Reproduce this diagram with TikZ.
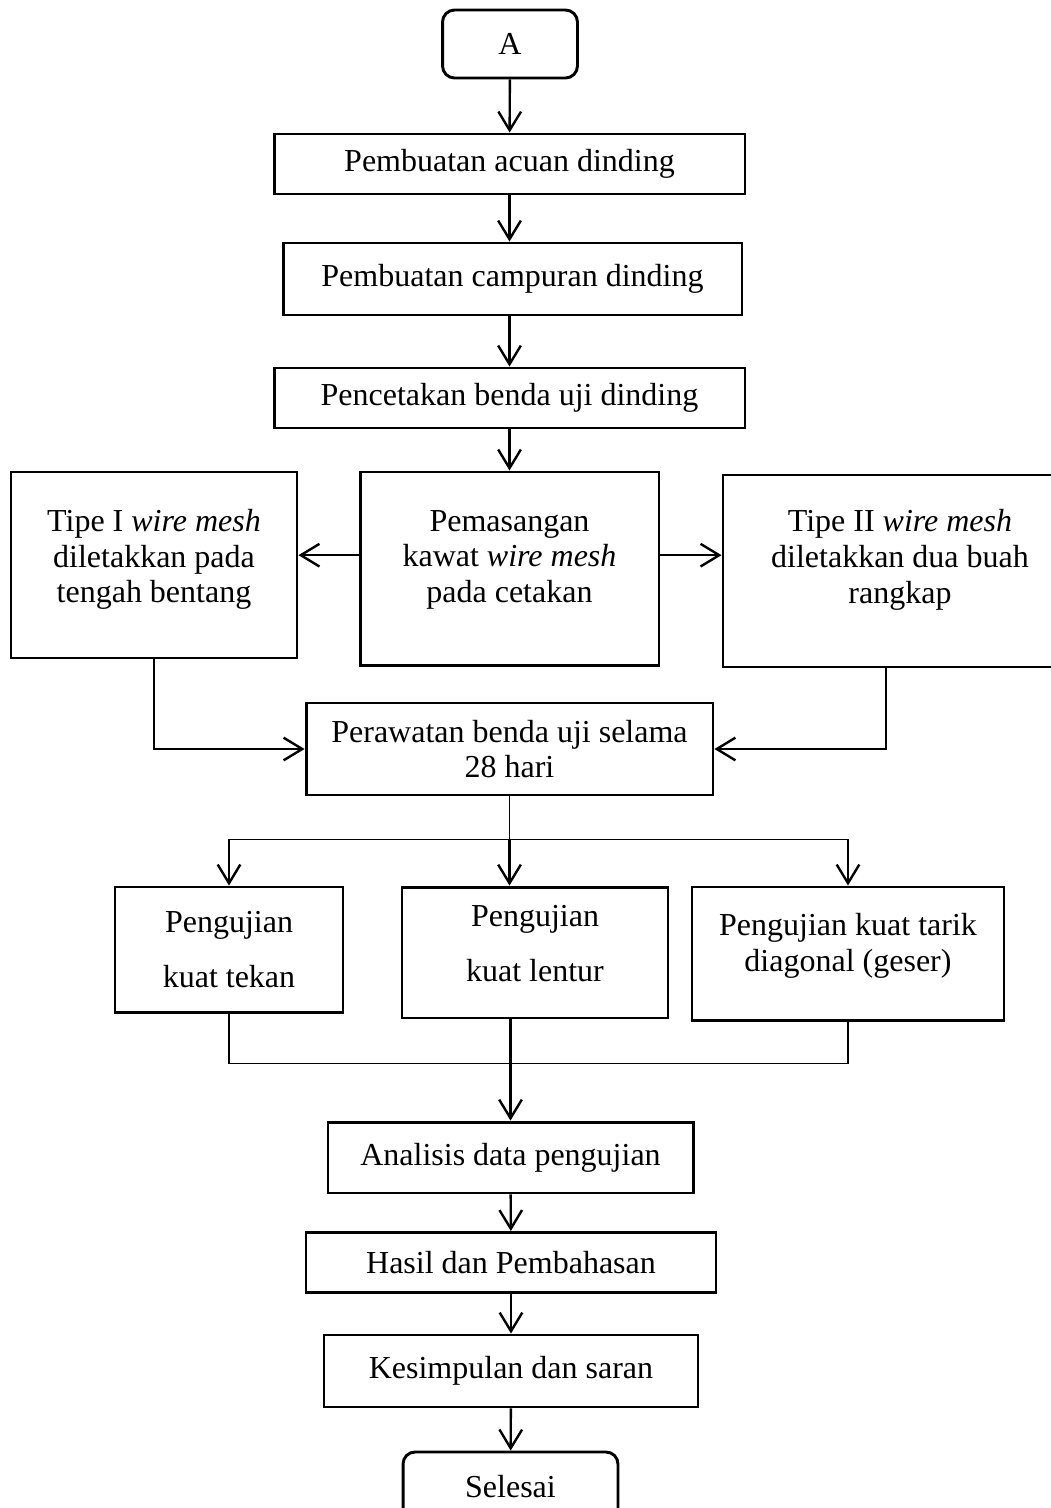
\documentclass[tikz,border=0pt]{standalone}
\usepackage{fontspec}
\setmainfont{Liberation Serif}
\usetikzlibrary{arrows.meta,positioning,calc}
\tikzset{
  box/.style   = {draw=black, line width=1.1pt, align=center, inner sep=0pt,
                  font=\fontsize{12}{13.4}\selectfont},
  rbox/.style  = {box, rounded corners=4.5pt},
  tall/.style  = {text depth=#1},
  arr/.style   = {-{Straight Barb[length=7pt,width=8.5pt,line width=0.9pt]}, draw=black, line width=0.9pt},
  link/.style  = {draw=black, line width=0.5pt},
}

\begin{document}
\begin{tikzpicture}[x=0.375pt, y=-0.375pt]
  \useasboundingbox (0,0) rectangle (1051,1508);

  % main column
  \node[rbox, minimum width=50.6pt, minimum height=25.5pt]    (start)    at (510,44)      {A};
  \node[box, minimum width=176.6pt, minimum height=22.5pt]    (acuan)    at (509.5,164)   {Pembuatan acuan dinding};
  \node[box, minimum width=172.1pt, minimum height=27pt]      (campuran) at (512.5,279)   {Pembuatan campuran dinding};
  \node[box, minimum width=176.6pt, minimum height=22.5pt]    (cetak)    at (509.5,398)   {Pencetakan benda uji dinding};
  \node[box, tall=9pt, minimum width=112.1pt, minimum height=72.4pt] (pasang) at (509.5,568.5) {Pemasangan\\kawat \textit{wire mesh}\\pada cetakan};
  \node[box, tall=6.8pt, minimum width=107.25pt, minimum height=69.75pt] (tipe1) at (154,565) {Tipe I \textit{wire mesh}\\diletakkan pada\\tengah bentang};
  \node[box, tall=11pt, minimum width=132.75pt, minimum height=72pt] (tipe2) at (900,571)  {Tipe II \textit{wire mesh}\\diletakkan dua buah\\rangkap};
  \node[box, minimum width=152.6pt, minimum height=34.5pt]    (rawat)    at (509.5,749)   {Perawatan benda uji selama\\28 hari};

  % tests
  \node[box, minimum width=85.5pt, minimum height=46.9pt]     (tekan)    at (229,949.5)   {Pengujian\\[7pt]kuat tekan};
  \node[box, tall=6.8pt, minimum width=99.75pt, minimum height=49.1pt] (lentur) at (535,952.5) {Pengujian\\[7pt]kuat lentur};
  \node[box, tall=8.5pt, minimum width=117pt, minimum height=49.9pt] (uji) at (848,953.5)  {Pengujian kuat tarik\\diagonal (geser)};

  \node[box, minimum width=136.9pt, minimum height=26.6pt]    (analisis) at (510.5,1157.5) {Analisis data pengujian};
  \node[box, minimum width=153.75pt, minimum height=22.5pt]   (hasil)    at (511,1262.5)  {Hasil dan Pembahasan};
  \node[box, minimum width=140.25pt, minimum height=27pt]     (simpul)   at (511,1371)    {Kesimpulan dan saran};
  \node[rbox, minimum width=80.6pt, minimum height=26.25pt]   (selesai)  at (510.5,1487)  {Selesai};

  % arrows
  \draw[arr] (start) -- (acuan);
  \draw[arr] (acuan.south) -- (acuan.south |- campuran.north);
  \draw[arr] (campuran.south -| cetak.north) -- (cetak.north);
  \draw[arr] (cetak) -- (pasang);
  \draw[arr] ([yshift=5pt]pasang.west) -- ([yshift=5pt]pasang.west -| tipe1.east);
  \draw[arr] ([yshift=5pt]pasang.east) -- ([yshift=5pt]pasang.east -| tipe2.west);
  \draw[arr] (tipe1.south) |- (rawat.west);
  \draw[arr] ([xshift=-5.25pt]tipe2.south) |- (rawat.east);

  \draw[link] (rawat.south) -- ++(0,43) coordinate (split);
  \draw[link] (split -| tekan.north) -- (split -| uji.north);
  \draw[arr] (split -| tekan.north) -- (tekan.north);
  \draw[arr] (split) -- (split |- lentur.north);
  \draw[arr] (split -| uji.north) -- (uji.north);

  \draw[link] (tekan.south) -- ++(0,50) -| (uji.south);
  \draw[arr] (lentur.south -| analisis.north) -- (analisis.north);
  \draw[arr] (analisis) -- (hasil);
  \draw[arr] (hasil) -- (simpul);
  \draw[arr] (simpul) -- (selesai);
\end{tikzpicture}
\end{document}
